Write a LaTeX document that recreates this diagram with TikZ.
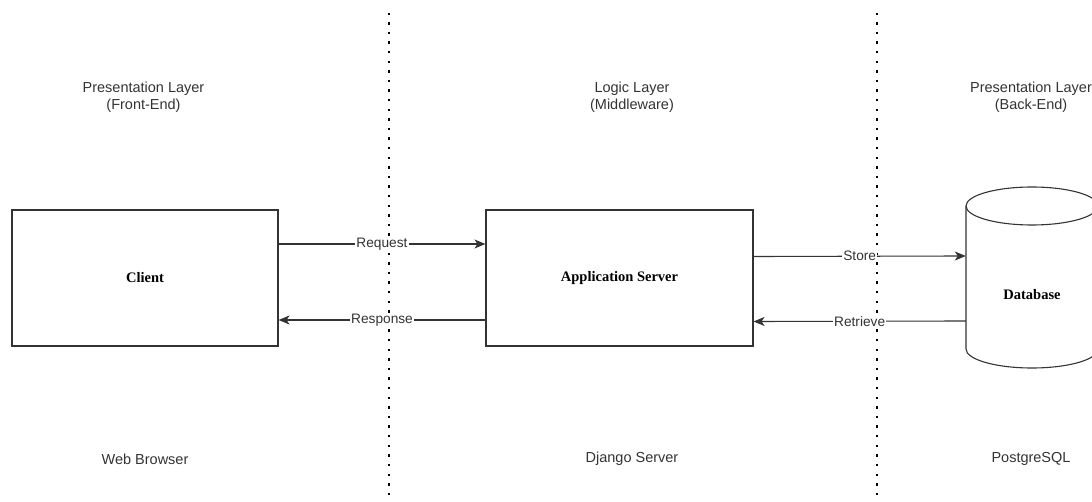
\documentclass[tikz,border=0pt]{standalone}
\usepackage{fontspec}
\setmainfont{Liberation Serif}
\setsansfont{Liberation Sans}
\usetikzlibrary{arrows.meta}
\definecolor{ink}{HTML}{333333}
\definecolor{txt}{HTML}{333333}
\tikzset{
  block/.style={draw=ink, line width=1.1pt, fill=white, minimum width=266pt,
    minimum height=136pt, inner sep=0pt, font=\fontsize{14.5}{17}\selectfont\bfseries\rmfamily},
  tierlabel/.style={align=center, text=txt, inner sep=0pt,
    font=\fontsize{14.5}{17}\selectfont\sffamily},
  flow/.style={draw=ink, line width=1.1pt, -{Stealth[length=11pt,width=9pt,inset=3pt]}},
  flowlabel/.style={fill=white, text=txt, inner sep=1pt,
    font=\fontsize{13.7}{16}\selectfont\sffamily},
  divider/.style={draw=black, line width=2.4pt, dash pattern=on 2.4pt off 7.2pt}
}
\begin{document}
\begin{tikzpicture}[x=1pt, y=-1pt]
\useasboundingbox (0,0) rectangle (1092,502);

% tier dividers
\coordinate (d1top) at (389,12.7);
\coordinate (d1bot) at (389,502);
\coordinate (d2top) at (877,12.7);
\coordinate (d2bot) at (877,502);
\draw[divider] (d1top) -- (d1bot);
\draw[divider] (d2top) -- (d2bot);

% tier headings
\node[tierlabel] (h1) at (143.5,97.5) {Presentation Layer\\(Front-End)};
\node[tierlabel] (h2) at (632,97.5) {Logic Layer\\(Middleware)};
\node[tierlabel] (h3) at (1031,97.5) {Presentation Layer\\(Back-End)};

% technologies
\node[tierlabel] (t1) at (145,459) {Web Browser};
\node[tierlabel] (t2) at (632,459) {Django Server};
\node[tierlabel] (t3) at (1031,459) {PostgreSQL};

% components
\node[block] (client) at (145,278) {Client};
\node[block, minimum width=267pt] (app) at (619.5,278) {Application Server};

% database cylinder
\node[minimum width=132pt, minimum height=143pt, inner sep=0pt] (db) at (1032,277.5) {};
\fill[white] (966,206) -- (966,349) arc[start angle=180, end angle=360, x radius=66pt, y radius=19pt]
  -- (1098,206) -- cycle;
\draw[ink, line width=1.1pt] (966,206) -- (966,349)
  arc[start angle=180, end angle=360, x radius=66pt, y radius=19pt] -- (1098,206);
\draw[ink, line width=1.1pt, fill=white] (1032,206) ellipse[x radius=66pt, y radius=19pt];
\node[font=\fontsize{14.5}{17}\selectfont\bfseries\rmfamily, inner sep=0pt] (dblabel) at (1032,295) {Database};

% request / response flows
\draw[flow] ([yshift=34pt]client.east) -- node[flowlabel]{Request} ([yshift=34pt]app.west);
\draw[flow] ([yshift=-42pt]app.west) -- node[flowlabel]{Response} ([yshift=-42pt]client.east);
\draw[flow] ([yshift=21.5pt]app.east) -- node[flowlabel]{Store} ([yshift=21.5pt]db.west);
\draw[flow] ([yshift=-43.5pt]db.west) -- node[flowlabel]{Retrieve} ([yshift=-43.5pt]app.east);
\end{tikzpicture}
\end{document}
